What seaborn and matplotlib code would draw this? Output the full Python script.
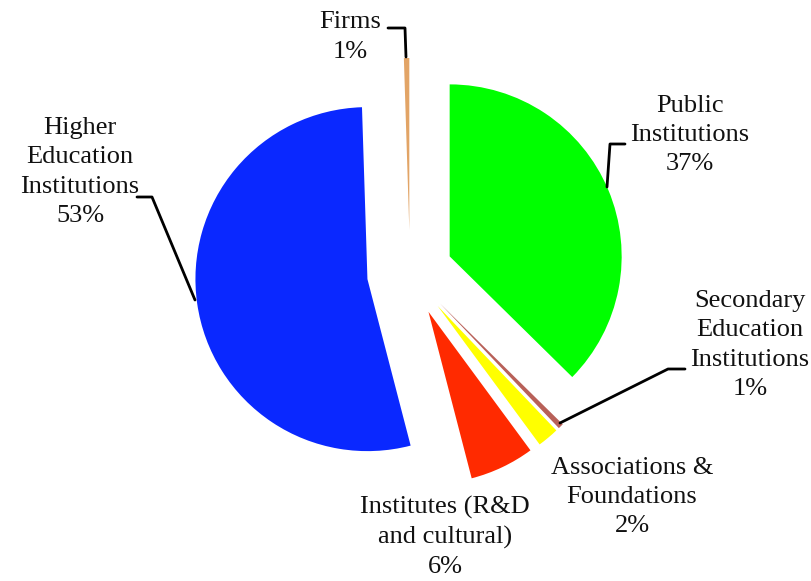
import matplotlib
matplotlib.use("Agg")
import matplotlib.pyplot as plt
import seaborn as sns

categories = ["Public\nInstitutions", "Secondary\nEducation\nInstitutions",
              "Associations &\nFoundations", "Institutes (R&D\nand cultural)",
              "Higher\nEducation\nInstitutions", "Firms"]
values = [37, 0.5, 2, 6, 53, 0.5]
pct_labels = ["37%", "1%", "2%", "6%", "53%", "1%"]
colors = ["#00ff00", "#b86058", "#ffff00", "#ff2a00", "#0a28ff", "#e2a466"]

sns.set_theme(style="white")
plt.rcParams['font.family'] = ['Liberation Serif', 'DejaVu Serif']

W, H = 812, 581
fig = plt.figure(figsize=(W / 100, H / 100), dpi=100)
ax = fig.add_axes([0, 0, 1, 1])

def py(y):
    return H - y

cx, cy, r = 410, 273, 172
ax.pie(values, colors=colors, startangle=90, counterclock=False,
       explode=[43] * len(values), radius=r, center=(cx, py(cy)),
       wedgeprops=dict(linewidth=0), frame=True)
ax.set_xlim(0, W)
ax.set_ylim(0, H)
ax.set_aspect("equal")
ax.axis("off")

label_pos = [(690, 135), (750, 345), (632, 497), (445, 537), (80, 172), (350, 37)]
for lab, p, (x, y) in zip(categories, pct_labels, label_pos):
    ax.text(x, py(y), f"{lab}\n{p}", ha="center", va="center",
            fontsize=19, linespacing=1.42, color="#111111")

leaders = [
    [(607, 187), (610, 144), (625, 144)],
    [(560, 423), (668, 369), (685, 369)],
    [(195, 300), (152, 197), (137, 197)],
    [(406, 57), (405, 28), (388, 28)],
]
for pts in leaders:
    xs = [p[0] for p in pts]
    ys = [py(p[1]) for p in pts]
    ax.plot(xs, ys, color="black", lw=2)

fig.savefig("out.png", dpi=100)
